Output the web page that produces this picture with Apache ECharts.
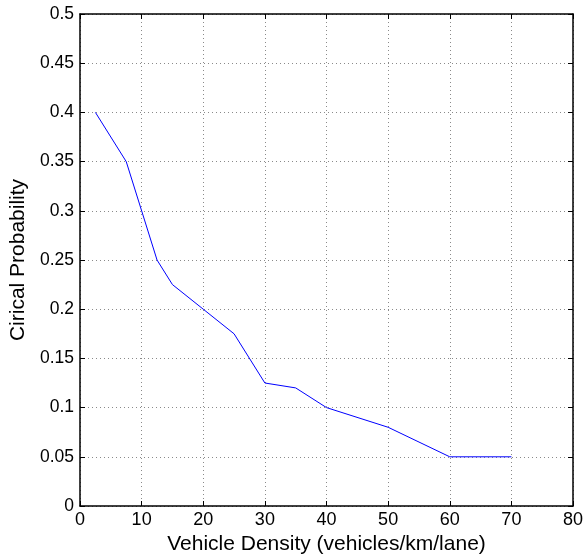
<!DOCTYPE html>
<html>
<head>
<meta charset="utf-8">
<script src="https://cdn.jsdelivr.net/npm/echarts@6/dist/echarts.min.js"></script>
<style>
  html, body { margin: 0; padding: 0; background: #fff; }
  #chart { width: 584px; height: 554px; }
</style>
</head>
<body>
<div id="chart"></div>
<script>
// Vehicle density (vehicles/km/lane) and the critical probability at each density
const density = [2.5, 7.5, 12.5, 15, 20, 25, 30, 35, 40, 50, 60, 70];
const probability = [0.4, 0.35, 0.25, 0.225, 0.2, 0.175, 0.125, 0.12, 0.1, 0.08, 0.05, 0.05];

const xTicks = { min: 0, max: 80, interval: 10 };
const yTicks = { min: 0, max: 0.5, interval: 0.05 };

const font = 'Liberation Sans, Arial, Helvetica, sans-serif';
const gridLine = { show: true, lineStyle: { color: '#8a8a8a', width: 1, type: [1, 3] } };
const frame = { show: true, onZero: false, lineStyle: { color: '#000', width: 1.5 } };
const innerTick = { show: true, inside: true, length: 5, lineStyle: { color: '#000', width: 1 } };

const chart = echarts.init(document.getElementById('chart'), null, { renderer: 'canvas' });
chart.setOption({
  animation: false,
  backgroundColor: '#fff',
  grid: {
    left: 80, right: 11, top: 14, bottom: 48,
    containLabel: false,
    outerBoundsMode: 'none'
  },
  xAxis: [{
    type: 'value',
    min: xTicks.min, max: xTicks.max, interval: xTicks.interval,
    name: 'Vehicle Density (vehicles/km/lane)',
    nameLocation: 'middle',
    nameGap: 23,
    nameTextStyle: { fontFamily: font, fontSize: 21, color: '#000' },
    axisLine: frame,
    axisTick: innerTick,
    axisLabel: { fontFamily: font, fontSize: 18, color: '#000', margin: 5 },
    splitLine: gridLine
  }, {
    type: 'value', position: 'top',
    min: xTicks.min, max: xTicks.max, interval: xTicks.interval,
    axisLine: frame, axisTick: innerTick,
    axisLabel: { show: false }, splitLine: { show: false }
  }],
  yAxis: [{
    type: 'value',
    min: yTicks.min, max: yTicks.max, interval: yTicks.interval,
    name: 'Cirical Probability',
    nameLocation: 'middle',
    nameGap: 43,
    nameTextStyle: { fontFamily: font, fontSize: 21, color: '#000' },
    axisLine: frame,
    axisTick: innerTick,
    axisLabel: {
      fontFamily: font, fontSize: 17.5, color: '#000', margin: 6,
      formatter: v => String(parseFloat(v.toFixed(2)))
    },
    splitLine: gridLine
  }, {
    type: 'value', position: 'right',
    min: yTicks.min, max: yTicks.max, interval: yTicks.interval,
    axisLine: frame, axisTick: innerTick,
    axisLabel: { show: false }, splitLine: { show: false }
  }],
  series: [{
    type: 'line',
    data: density.map((d, i) => [d, probability[i]]),
    showSymbol: false,
    symbol: 'none',
    lineStyle: { color: '#0000ff', width: 1 },
    z: 5
  }]
});
</script>
</body>
</html>
